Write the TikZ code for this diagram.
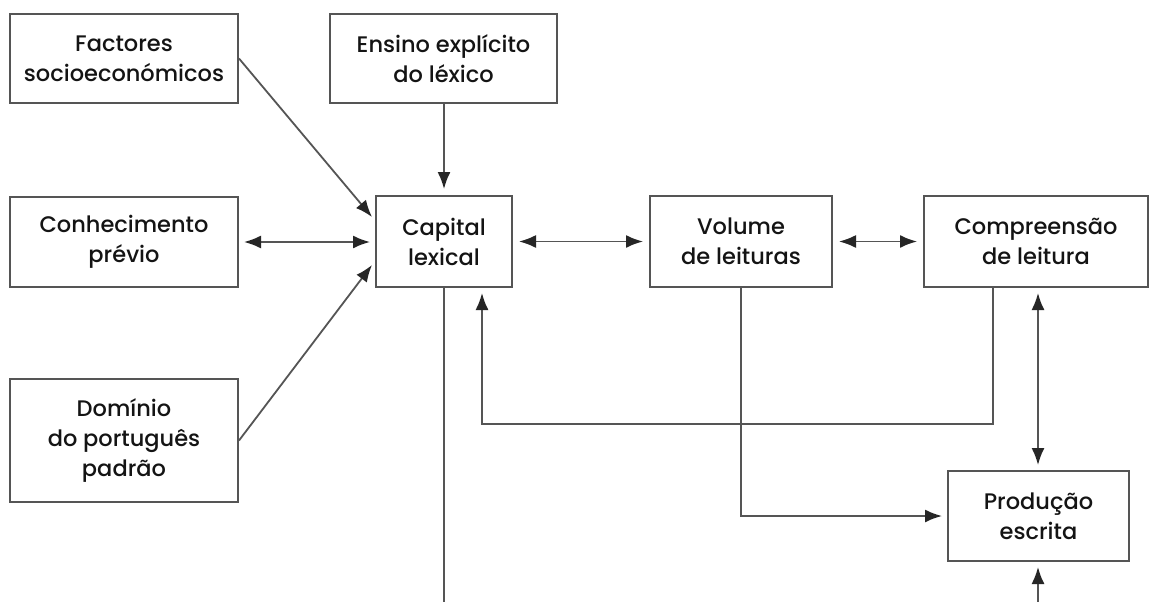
\documentclass[tikz,border=0pt]{standalone}
\usepackage{fontspec}
\setmainfont{Poppins}[UprightFont={* Medium}]
\usetikzlibrary{arrows.meta,calc}
\definecolor{ink}{HTML}{141414}
\definecolor{rule}{HTML}{555555}
\definecolor{head}{HTML}{262626}
\begin{document}
\begin{tikzpicture}[x=1pt,y=-1pt,
  box/.style={draw=rule,line width=2pt,rectangle,align=center,inner sep=0pt,
    text=ink,font=\fontsize{22.5}{30}\selectfont},
  link/.style={draw=rule,line width=1.8pt},
  tip/.style={-{Latex[length=17pt,width=13pt,color=head]}},
  tips/.style={{Latex[length=17pt,width=13pt,color=head]}-{Latex[length=17pt,width=13pt,color=head]}}]
\useasboundingbox[fill=white] (0,0) rectangle (1149,602);

% boxes
\node[box,minimum width=228pt,minimum height=89pt] (fac) at (124,58.5) {Factores\\socioeconómicos};
\node[box,minimum width=227pt,minimum height=89pt] (ens) at (443.5,58.5) {Ensino explícito\\do léxico};
\node[box,minimum width=228pt,minimum height=90pt] (con) at (124,242) {Conhecimento\\prévio};
\node[box,minimum width=228pt,minimum height=123pt] (dom) at (124,440.5) {Domínio\\do português\\padrão};
\node[box,minimum width=136pt,minimum height=91pt] (cap) at (444,241.5) {Capital\\lexical};
\node[box,minimum width=182pt,minimum height=91pt] (vol) at (741,241.5) {Volume\\de leituras};
\node[box,minimum width=224pt,minimum height=91pt] (com) at (1036,241.5) {Compreensão\\de leitura};
\node[box,minimum width=181pt,minimum height=90pt] (pro) at (1038.5,516) {Produção\\escrita};

% connector end points
\coordinate (capA) at (372,217);
\coordinate (capB) at (372,265);
\coordinate (capbot) at (444,602);
\coordinate (fb) at (993,287);
\coordinate (fbtip) at (482,293);
\coordinate (volout) at (741,287);
\coordinate (probot) at (1038,602);

% connectors
\draw[link,tip] (fac.east) -- (capA);
\draw[link,tip] (dom.east) -- (capB);
\draw[link,tip,shorten >=6pt] (ens.south -| cap.north) -- (cap.north);
\draw[link,tips,shorten <=5pt,shorten >=5pt] (con.east) -- (con.east -| cap.west);
\draw[link,tips,shorten <=6pt,shorten >=6pt] (cap.east) -- (cap.east -| vol.west);
\draw[link,tips,shorten <=6pt,shorten >=6pt] (vol.east) -- (vol.east -| com.west);
\draw[link] (cap.south) -- (capbot);
\draw[link,tip] (fb) -- (993,424) -| (fbtip);
\draw[link,tip,shorten >=5pt] (volout) |- (pro.west);
\draw[link,tips,shorten <=5pt,shorten >=5pt] (com.south -| probot) -- (pro.north -| probot);
\draw[link,tip,shorten >=5pt] (probot) -- (pro.south -| probot);
\end{tikzpicture}
\end{document}
